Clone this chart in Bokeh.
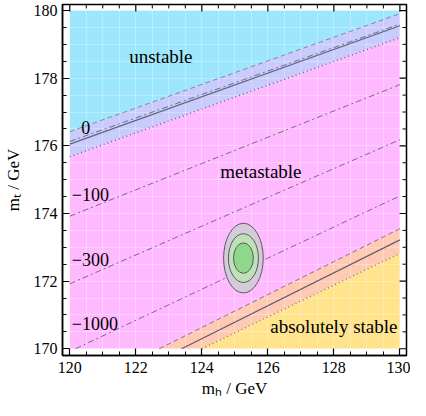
import numpy as np
from bokeh.plotting import figure
from bokeh.models import FixedTicker, Range1d
from bokeh.core.properties import value
from bokeh.embed import file_html
from bokeh.resources import INLINE

# ---------------- data ----------------
mh_box = [120.0, 130.0]
mt_box = [170.0, 180.0]
x_ticks = [120, 122, 124, 126, 128, 130]
y_ticks = [170, 172, 174, 176, 178, 180]
minor_x = [120 + 0.5 * i for i in range(21)]
minor_y = [170 + 0.5 * i for i in range(21)]

# boundary lines given by m_t at m_h = 120 and m_h = 130
unstable_upper = [176.42, 179.91]    # dashed
unstable_central = [176.05, 179.55]  # solid
unstable_lower = [175.68, 179.20]    # dotted
stable_upper = [168.68, 173.55]      # dashed
stable_central = [168.35, 173.22]    # solid
stable_lower = [168.12, 172.82]      # dotted

contour_labels = ["0", "\u2212100", "\u2212300", "\u22121000"]
contour_lines = [[176.13, 179.60], [173.92, 177.81], [171.92, 176.18], [169.92, 174.52]]
contour_label_x = [120.35, 120.06, 120.06, 120.06]
contour_label_y = [176.55, 174.55, 172.65, 170.74]

ellipse_center = [125.26, 172.68]
ellipse_widths = [1.20, 0.91, 0.60]
ellipse_heights = [2.06, 1.44, 0.90]
ellipse_colors = ["#d3cbd9", "#bfe0b8", "#8fd88b"]

region_names = ["unstable", "metastable", "absolutely stable"]
region_label_xy = [(122.76, 178.65), (125.79, 175.25), (128.0, 170.65)]

X0, X1 = 119.78, 130.2
Y0, Y1 = 169.8, 180.18

# ---------------- helpers ----------------
def line_y(ends, x):
    a, b = ends
    return a + (b - a) / (mh_box[1] - mh_box[0]) * (x - mh_box[0])

def clipped_segment(ends):
    a, b = ends
    slope = (b - a) / (mh_box[1] - mh_box[0])
    x = np.array(mh_box, dtype=float)
    y = line_y(ends, x)
    if y[0] < mt_box[0]:
        x[0] = mh_box[0] + (mt_box[0] - a) / slope
        y[0] = mt_box[0]
    if y[1] > mt_box[1]:
        x[1] = mh_box[0] + (mt_box[1] - a) / slope
        y[1] = mt_box[1]
    return x, y

xs = np.linspace(mh_box[0], mh_box[1], 401)
def cl(ends):
    return np.clip(line_y(ends, xs), mt_box[0], mt_box[1])

FONT = "Liberation Serif"

p = figure(width=410, height=400,
           x_range=Range1d(X0, X1), y_range=Range1d(Y0, Y1),
           output_backend="svg", toolbar_location=None,
           min_border_left=60, min_border_right=4, min_border_top=4, min_border_bottom=44)
p.outline_line_color = "black"
p.outline_line_width = 1.5
p.outline_line_alpha = 1.0
p.background_fill_color = "white"

# regions
top = np.full_like(xs, mt_box[1])
bot = np.full_like(xs, mt_box[0])
regions = [
    (cl(unstable_upper), top, "#9de6fb"),
    (cl(unstable_lower), cl(unstable_upper), "#c8cbfb"),
    (cl(stable_upper), cl(unstable_lower), "#ffbaff"),
    (cl(stable_lower), cl(stable_upper), "#ffcab4"),
    (bot, cl(stable_lower), "#ffe38d"),
]
for y1, y2, c in regions:
    p.varea(x=xs, y1=y1, y2=y2, fill_color=c, level="image")

def draw(ends, dash, color, width=1.0):
    x, y = clipped_segment(ends)
    p.line(x, y, line_color=color, line_dash=dash, line_width=width)

draw(unstable_upper, "5 3", "#7a8c9c")
draw(unstable_central, "solid", "#5a6878", 1.2)
draw(unstable_lower, "1 3", "#6a5a88", 1.4)
draw(stable_upper, "5 3", "#8a7090")
draw(stable_central, "solid", "#6a5a6a", 1.2)
draw(stable_lower, "1 3", "#8a7a60", 1.4)

for ends in contour_lines:
    draw(ends, "6 3 2 3", "#7a6a82")

# contour labels
p.text(x=contour_label_x, y=contour_label_y, text=contour_labels,
       text_font=value(FONT), text_font_size="18px", text_color="black",
       text_align="left", text_baseline="middle")

# ellipses
for w, h, c in zip(ellipse_widths, ellipse_heights, ellipse_colors):
    p.ellipse(x=[ellipse_center[0]], y=[ellipse_center[1]], width=w, height=h,
              fill_color=c, line_color="#5a5a5a", line_width=1)

# region labels
p.text(x=[xy[0] for xy in region_label_xy], y=[xy[1] for xy in region_label_xy],
       text=region_names, text_font=value(FONT), text_font_size="19px",
       text_color="black", text_align="center", text_baseline="middle")

# mirrored ticks on top and right frame edges
minor_only_x = [t for t in minor_x if t not in x_ticks]
minor_only_y = [t for t in minor_y if t not in y_ticks]
tick_major_x = 7 / 33.4
tick_minor_x = 4 / 33.4
tick_major_y = 7 / 34.0
tick_minor_y = 4 / 34.0
p.segment(x0=x_ticks, x1=x_ticks, y0=[Y1] * len(x_ticks), y1=[Y1 - tick_major_y] * len(x_ticks),
          line_color="black", line_width=1.2)
p.segment(x0=minor_only_x, x1=minor_only_x, y0=[Y1] * len(minor_only_x),
          y1=[Y1 - tick_minor_y] * len(minor_only_x), line_color="black", line_width=1)
p.segment(y0=y_ticks, y1=y_ticks, x0=[X1] * len(y_ticks), x1=[X1 - tick_major_x] * len(y_ticks),
          line_color="black", line_width=1.2)
p.segment(y0=minor_only_y, y1=minor_only_y, x0=[X1] * len(minor_only_y),
          x1=[X1 - tick_minor_x] * len(minor_only_y), line_color="black", line_width=1)

# grid (faint white mesh)
p.xgrid.ticker = FixedTicker(ticks=minor_x)
p.ygrid.ticker = FixedTicker(ticks=minor_y)
for g in (p.xgrid[0], p.ygrid[0]):
    g.grid_line_color = "white"
    g.grid_line_alpha = 0.3
    g.level = "underlay"

# axes
xa = p.below[0]
ya = p.left[0]
xa.axis_label = "m\u2095 / GeV"
ya.axis_label = "m\u209c / GeV"

for ax, major, minor in ((xa, x_ticks, minor_x), (ya, y_ticks, minor_y)):
    ax.ticker = FixedTicker(ticks=major, minor_ticks=minor)
    ax.major_tick_in = 7
    ax.major_tick_out = 0
    ax.minor_tick_in = 4
    ax.minor_tick_out = 0
    ax.axis_line_color = "black"
    ax.axis_line_width = 1.5
    ax.major_tick_line_color = "black"
    ax.major_tick_line_width = 1.2
    ax.minor_tick_line_color = "black"
    ax.minor_tick_line_width = 1
    ax.major_label_text_font = FONT
    ax.major_label_text_font_size = "16px"
    ax.major_label_text_color = "black"
    ax.axis_label_text_font = FONT
    ax.axis_label_text_font_size = "17px"
    ax.axis_label_text_font_style = "normal"
    ax.axis_label_text_color = "black"

xa.major_label_standoff = 6
ya.major_label_standoff = 5
xa.axis_label_standoff = 3
ya.axis_label_standoff = 8

open("out.html", "w").write(file_html(p, INLINE))
